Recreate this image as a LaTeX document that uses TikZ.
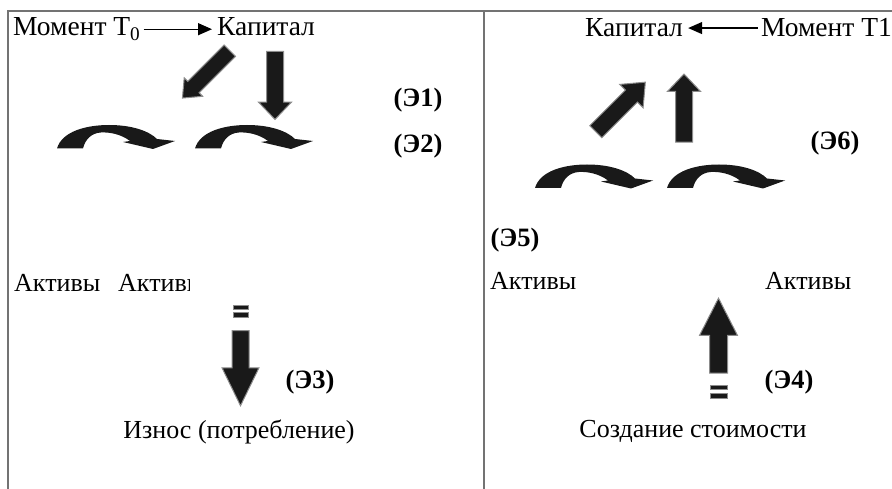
\documentclass[tikz,border=0pt]{standalone}
\usepackage{fontspec}
\setmainfont{Liberation Serif}
\usetikzlibrary{shapes.arrows,arrows.meta}
\tikzstyle{txt}=[inner sep=2pt, font=\fontsize{26}{30}\selectfont]
\tikzstyle{top}=[inner sep=3pt, font=\fontsize{27.5}{32}\selectfont]
\tikzstyle{tag}=[inner sep=2pt, font=\fontsize{26.5}{30}\selectfont\bfseries]
\tikzstyle{frame}=[black!55, line width=1.3pt]
\tikzstyle{link}=[line width=1.3pt, shorten >=2pt, -{Triangle[length=14pt,width=12pt]}]
\tikzstyle{blockarrow}=[single arrow, fill=black!90, draw=black!45, line width=1pt,
  inner sep=8pt, single arrow head extend=8pt, single arrow tip angle=87, minimum width=0pt]
\tikzstyle{bar}=[fill=black!90, draw=black!45, line width=0.8pt]
\tikzset{bentarrow/.pic={
  \fill[black!90] (0,23.5) .. controls (5,6) and (30,0) .. (52,0)
    .. controls (75,0) and (92,6) .. (100,14) -- (118,16) -- (96,24)
    -- (66,17) -- (73,16) .. controls (64,9) and (52,7) .. (44,7.5)
    .. controls (34,8) and (28,15) .. (26,23.5) -- cycle;
}}

\begin{document}
\begin{tikzpicture}[x=1pt,y=-1pt]
  \useasboundingbox (0,0) rectangle (892,489);
  % frame
  \draw[frame] (8,489) -- (8,11) -- (892,11);
  \draw[frame] (484,11) -- (484,489);

  % left half: moment T0
  \node[top, anchor=base west] (mom0) at (10,36) {Момент T\textsubscript{0}};
  \node[top, anchor=base west] (kap0) at (214,36) {Капитал};
  \draw[link] (mom0.east) -- (mom0.east -| kap0.west);
  \node[blockarrow, minimum height=67pt, inner sep=7.5pt, single arrow head extend=5pt,
    single arrow tip angle=80, rotate=225] (a1) at (209.5,71) {};
  \node[blockarrow, minimum height=68pt, rotate=-90] (a2) at (275,81) {};
  \node[tag, anchor=base] (e1) at (418,107) {(Э1)};
  \pic at (57,125) {bentarrow};
  \pic at (195,125) {bentarrow};
  \node[tag, anchor=base] (e2) at (418,153) {(Э2)};
  \node[txt, anchor=base west] (akt1) at (12,291) {Активы};
  \begin{scope}
    \clip (100,250) rectangle (189,310);
    \node[txt, anchor=base west] (akt2) at (116,291) {Активы};
  \end{scope}
  \filldraw[bar] (233,305) rectangle (248,309);
  \filldraw[bar] (233,312) rectangle (248,317);
  \node[blockarrow, minimum height=75pt, single arrow head extend=10pt,
    single arrow tip angle=52, rotate=-90] (a3) at (240.5,359.5) {};
  \node[tag, anchor=base] (e3) at (310,388) {(Э3)};
  \node[txt, anchor=base] (iznos) at (239,438) {Износ (потребление)};

  % right half: moment T1
  \node[top, anchor=base east] (mom1) at (895,37) {Момент T1};
  \node[top, anchor=base west] (kap1) at (582,37) {Капитал};
  \draw[link] (mom1.west) -- (mom1.west -| kap1.east);
  \node[blockarrow, minimum height=70pt, single arrow tip angle=80, rotate=45] (a6) at (617,110.5) {};
  \node[blockarrow, minimum height=68pt, rotate=90] (a7) at (684,112.5) {};
  \pic at (535,164.5) {bentarrow};
  \pic at (667,164.5) {bentarrow};
  \node[tag, anchor=base] (e6) at (835,150) {(Э6)};
  \node[tag, anchor=base] (e5) at (515,247) {(Э5)};
  \node[txt, anchor=base west] (akt3) at (488,290) {Активы};
  \node[txt, anchor=base west] (akt4) at (763,290) {Активы};
  \node[blockarrow, minimum height=75pt, inner sep=8.5pt, single arrow head extend=10pt,
    single arrow tip angle=54, rotate=90] (a4) at (718.5,344.5) {};
  \filldraw[bar] (710,385) rectangle (727,389);
  \filldraw[bar] (710,393) rectangle (727,398);
  \node[tag, anchor=base] (e4) at (789,388) {(Э4)};
  \node[txt, anchor=base] (sozd) at (693,437) {Создание стоимости};
\end{tikzpicture}
\end{document}
